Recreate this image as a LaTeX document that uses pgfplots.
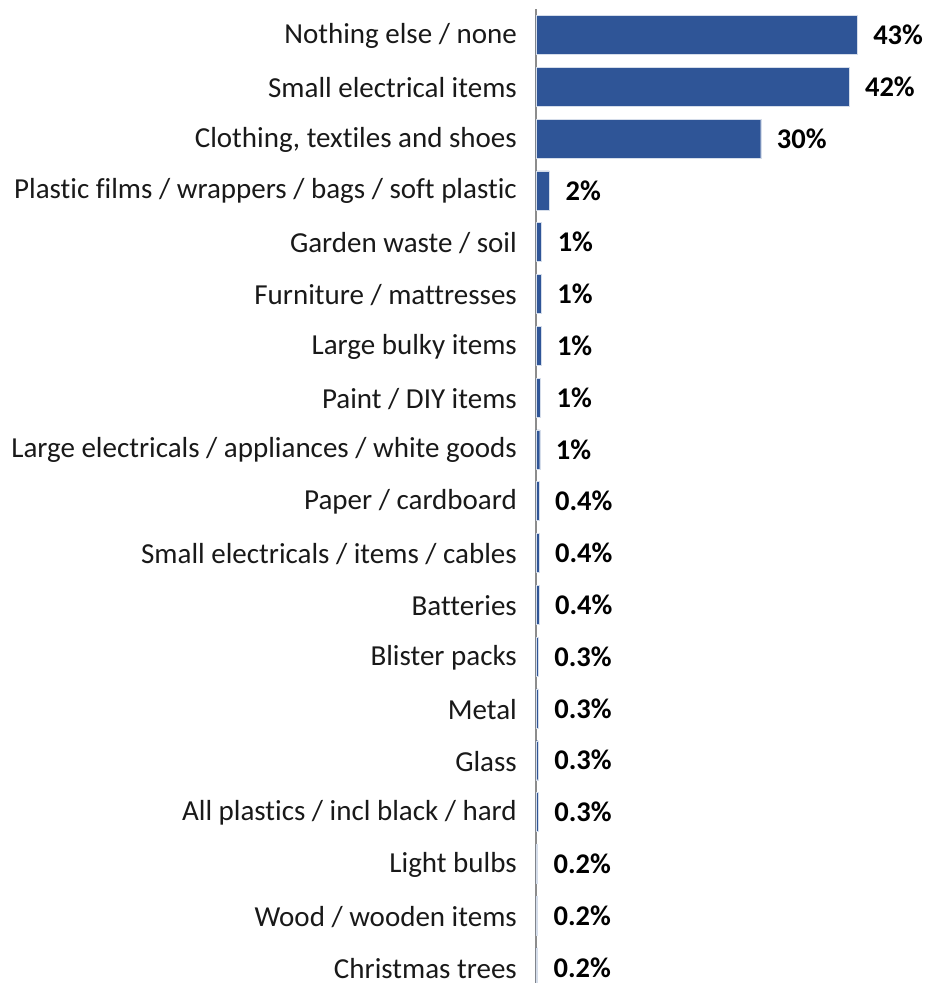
\documentclass[border=0pt]{standalone}
\usepackage{fontspec}
\setmainfont{Carlito}[Ligatures={NoCommon}]
\usepackage{pgfplots}
\usepackage{pgfplotstable}
\pgfplotsset{compat=1.18}
\definecolor{barblue}{HTML}{2F5597}
\definecolor{axgray}{HTML}{8C8C8C}
\pgfplotstableread[col sep=comma]{
idx,val,lab
0,43.0,43
1,41.9,42
2,30.1,30
3,1.8,2
4,0.75,1
5,0.7,1
6,0.65,1
7,0.6,1
8,0.5,1
9,0.4,0.4
10,0.4,0.4
11,0.4,0.4
12,0.3,0.3
13,0.3,0.3
14,0.3,0.3
15,0.3,0.3
16,0.2,0.2
17,0.2,0.2
18,0.2,0.2
}\datatable
\begin{document}
\begin{tikzpicture}
\useasboundingbox (-536pt,0pt) rectangle (392pt,983pt);
\begin{axis}[
  at={(0pt,0pt)}, anchor=south west,
  scale only axis,
  width=392pt, height=974pt,
  xmin=0, xmax=52.5,
  ymin=-0.5, ymax=18.3,
  y dir=reverse,
  xbar, bar width=39pt,
  axis x line=none,
  axis y line*=left,
  y axis line style={draw=axgray, line width=1.6pt},
  ytick={0,...,18},
  major tick length=0pt,
  yticklabels={Nothing else / none, Small electrical items, {Clothing, textiles and shoes}, Plastic films / wrappers / bags / soft plastic, Garden waste / soil, Furniture / mattresses, Large bulky items, Paint / DIY items, Large electricals / appliances / white goods, Paper / cardboard, Small electricals / items / cables, Batteries, Blister packs, Metal, Glass, All plastics / incl black / hard, Light bulbs, Wood / wooden items, Christmas trees},
  yticklabel style={font=\fontsize{29}{33}\selectfont, color=black!90, xshift=-19pt, yshift=-1pt, inner sep=0pt},
  point meta=explicit symbolic,
  nodes near coords={\pgfplotspointmeta\%},
  nodes near coords style={font=\fontsize{28.5}{33}\selectfont\bfseries, anchor=west, inner sep=0pt, xshift=16pt, color=black},
  clip=false,
]
\addplot[fill=barblue, draw=white!80!barblue, line width=0.4pt] table[x=val, y=idx, meta=lab] {\datatable};
\end{axis}
\end{tikzpicture}
\end{document}
